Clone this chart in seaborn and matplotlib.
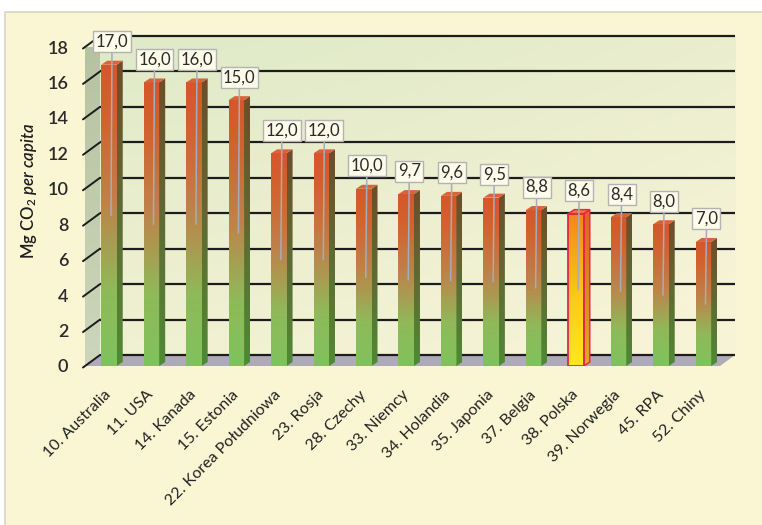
import numpy as np
import pandas as pd
import matplotlib
matplotlib.use("Agg")
import matplotlib.pyplot as plt
import matplotlib.transforms as mtransforms
from matplotlib.colors import LinearSegmentedColormap, to_rgb
from matplotlib.patches import Polygon, Rectangle
import seaborn as sns

# ---- data -----------------------------------------------------------------
countries = [
    "10. Australia", "11. USA", "14. Kanada", "15. Estonia",
    "22. Korea Południowa", "23. Rosja", "28. Czechy", "33. Niemcy",
    "34. Holandia", "35. Japonia", "37. Belgia", "38. Polska",
    "39. Norwegia", "45. RPA", "52. Chiny",
]
emissions = [17.0, 16.0, 16.0, 15.0, 12.0, 12.0, 10.0, 9.7, 9.6, 9.5,
             8.8, 8.6, 8.4, 8.0, 7.0]
highlight = "38. Polska"
y_ticks = [0, 2, 4, 6, 8, 10, 12, 14, 16, 18]
y_label = r"Mg CO$_2$ $\mathit{per\ capita}$"

df = pd.DataFrame({"country": countries, "value": emissions})

# ---- style ----------------------------------------------------------------
sns.set_theme(style="white")
plt.rcParams["font.family"] = ["Lato", "DejaVu Sans"]
plt.rcParams["mathtext.fontset"] = "custom"
plt.rcParams["mathtext.rm"] = "Lato:semibold"
plt.rcParams["mathtext.it"] = "Lato:italic:semibold"

W, H = 762, 525
fig = plt.figure(figsize=(W / 100, H / 100), dpi=100)
fig.patch.set_facecolor("white")

# background panel with a thin frame
bg = fig.add_axes([0, 0, 1, 1], zorder=-5)
bg.set_xlim(0, W)
bg.set_ylim(H, 0)
bg.axis("off")
bg.add_patch(Rectangle((5, 12), W - 3, H - 10, facecolor="#faf6d3",
                       edgecolor="#d9d3c9", lw=1.2))

# plotting area (front plane of the 3-D box)
left_px, right_px, top_px, base_px = 85, 720, 47, 366
ax = fig.add_axes([left_px / W, (H - base_px) / H,
                   (right_px - left_px) / W, (base_px - top_px) / H])
ax.patch.set_alpha(0)
x0, x1 = -0.565, 14.39

px_x = (right_px - left_px) / (x1 - x0)      # pixels per category unit
px_y = (base_px - top_px) / 18.0              # pixels per value unit
dx_wall, dy_wall = 15 / px_x, 11 / px_y       # box depth
dx_bar, dy_bar = 6 / px_x, 4 / px_y           # bar depth

# ---- bars (drawn first so the container holds only them) -------------------
sns.barplot(data=df, x="country", y="value", ax=ax, width=0.365,
            color="#c86a3a", saturation=1, zorder=3)
bars = list(ax.containers[0])
ax.set_xlim(x0, x1)
ax.set_ylim(0, 18)

# back wall with soft green-to-cream wash
gy, gx = np.mgrid[0:1:200j, 0:1:300j]
green = np.array(to_rgb("#e0eac8"))
cream = np.array(to_rgb("#f6f3d6"))
t = np.clip(0.75 * gy + 0.45 * gx ** 1.5, 0, 1)[..., None]
wall = green * (1 - t) + cream * t
ax.imshow(wall, extent=(x0 + dx_wall, x1 + dx_wall, 0 + dy_wall, 18 + dy_wall),
          origin="upper", aspect="auto", zorder=0, clip_on=False)

# left wall (shaded side panel)
side_wash = np.linspace(0, 1, 200).reshape(-1, 1)
wall_cmap = LinearSegmentedColormap.from_list("wall", ["#b5c2a0", "#cdd6bb"])
left_wall = Polygon([(x0, 0), (x0, 18), (x0 + dx_wall, 18 + dy_wall),
                     (x0 + dx_wall, dy_wall)], closed=True,
                    facecolor="none", edgecolor="none", zorder=0.5,
                    clip_on=False)
ax.add_patch(left_wall)
lim = ax.imshow(side_wash, extent=(x0, x0 + dx_wall, 0, 18 + dy_wall),
                cmap=wall_cmap, aspect="auto", zorder=0.5, origin="upper")
lim.set_clip_path(left_wall)

# floor
ax.add_patch(Polygon([(x0, 0), (x1, 0), (x1 + dx_wall, dy_wall),
                      (x0 + dx_wall, dy_wall)], closed=True,
                     facecolor="#aeaab8", edgecolor="none", zorder=0.8,
                     clip_on=False))

# grid lines on the back wall and the left wall
for v in y_ticks:
    ax.plot([x0 + dx_wall, x1 + dx_wall], [v + dy_wall, v + dy_wall],
            color="#1c1c1c", lw=1.6, zorder=1, clip_on=False,
            solid_capstyle="butt")
    ax.plot([x0 - 2 / px_x, x0 + dx_wall], [v - 1.5 / px_y, v + dy_wall],
            color="#1c1c1c", lw=1.4, zorder=1, clip_on=False)

front_cmap = LinearSegmentedColormap.from_list(
    "front", [(0.0, "#80c25d"), (0.25, "#8fba59"), (0.55, "#bf814a"),
              (0.82, "#d2632f"), (1.0, "#d6562b")])
side_cmap = LinearSegmentedColormap.from_list(
    "side", [(0.0, "#4f8a35"), (0.45, "#5e6e34"), (1.0, "#6e4c2a")])
hi_front_cmap = LinearSegmentedColormap.from_list(
    "hi_front", [(0.0, "#ffe81c"), (0.45, "#fcc91c"), (1.0, "#f2861e")])
hi_side_cmap = LinearSegmentedColormap.from_list(
    "hi_side", [(0.0, "#e8a81c"), (1.0, "#d66a1c")])

grad = np.linspace(1, 0, 256).reshape(-1, 1)
for bar, name, v in zip(bars, countries, emissions):
    bx, bw, bh = bar.get_x(), bar.get_width(), bar.get_height()
    is_hi = name == highlight
    fc = hi_front_cmap if is_hi else front_cmap
    sc = hi_side_cmap if is_hi else side_cmap

    # front face gradient
    im = ax.imshow(grad, extent=(bx, bx + bw, 0, bh), cmap=fc, vmin=0, vmax=1,
                   aspect="auto", zorder=3, origin="upper")
    im.set_clip_path(bar)
    bar.set_facecolor("none")
    bar.set_zorder(4.5)
    if is_hi:
        bar.set_edgecolor("#e8224c")
        bar.set_linewidth(1.3)
    else:
        bar.set_edgecolor("none")

    # side face
    side = Polygon([(bx + bw, 0), (bx + bw, bh), (bx + bw + dx_bar, bh + dy_bar),
                    (bx + bw + dx_bar, dy_bar)], closed=True,
                   facecolor="none",
                   edgecolor="#e8224c" if is_hi else "none",
                   lw=1.0, zorder=4)
    ax.add_patch(side)
    sim = ax.imshow(grad, extent=(bx + bw, bx + bw + dx_bar, 0, bh + dy_bar),
                    cmap=sc, vmin=0, vmax=1, aspect="auto", zorder=3,
                    origin="upper")
    sim.set_clip_path(side)

    # top face
    ax.add_patch(Polygon([(bx, bh), (bx + bw, bh),
                          (bx + bw + dx_bar, bh + dy_bar),
                          (bx + dx_bar, bh + dy_bar)], closed=True,
                         facecolor="#f07a28" if is_hi else "#d9643a",
                         edgecolor="#e8224c" if is_hi else "none",
                         lw=1.0, zorder=4))

    # value label with leader line
    cx = bx + bw / 2
    lx = cx + 3 / px_x
    ly = v + 23 / px_y
    ax.plot([lx, cx + 2 / px_x], [ly - 9 / px_y, v / 2], color="#a4adba",
            lw=1.1, zorder=5, clip_on=False)
    ax.text(lx, ly, f"{v:.1f}".replace(".", ","), ha="center", va="center",
            fontsize=12, color="#2a2a2a", zorder=6,
            bbox=dict(boxstyle="square,pad=0.15", fc="#fdfbe9", ec="#b3b3b3",
                      lw=1.0))

ax.set_xlim(x0, x1)
ax.set_ylim(0, 18)

# ---- axes text --------------------------------------------------------------
for s in ax.spines.values():
    s.set_visible(False)
ax.set_yticks(y_ticks)
ax.set_yticklabels([str(v) for v in y_ticks], fontsize=13, color="#2a2a2a",
                   fontweight="semibold")
ax.tick_params(axis="y", length=0, pad=12)
ax.set_xticks(range(len(countries)))
ax.set_xticklabels(countries, rotation=45, ha="right", va="center",
                   rotation_mode="anchor", fontsize=11.5, color="#222222")
ax.tick_params(axis="x", length=0, pad=15)
shift = mtransforms.ScaledTranslation(0, -6 / 100, fig.dpi_scale_trans)
for lab in ax.get_xticklabels():
    lab.set_transform(lab.get_transform() + shift)
ax.set_xlabel("")
ax.set_ylabel(y_label, fontsize=12, color="#1e1e1e", fontweight="semibold")
ax.yaxis.set_label_coords(-0.072, 0.55)

fig.savefig("out.png", dpi=100, facecolor=fig.get_facecolor())
